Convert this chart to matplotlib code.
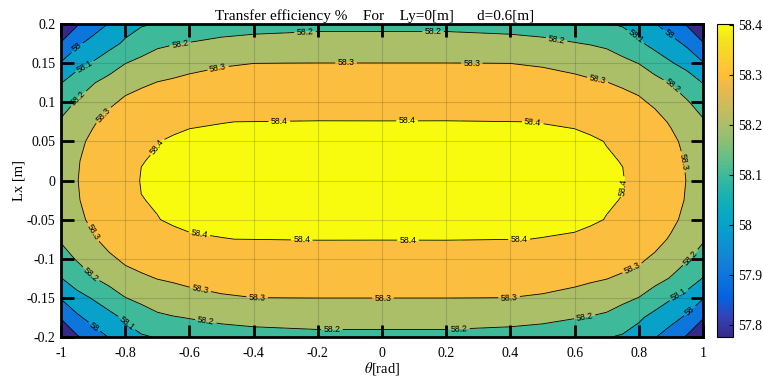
import numpy as np
import matplotlib
matplotlib.use("Agg")
import matplotlib.pyplot as plt
from matplotlib.colors import LinearSegmentedColormap, Normalize
from matplotlib.cm import ScalarMappable

plt.rcParams["font.family"] = ["Liberation Serif", "DejaVu Serif"]
plt.rcParams["mathtext.fontset"] = "stix"
plt.rcParams["axes.unicode_minus"] = False

# one quadrant of the efficiency map (theta >= 0, Lx >= 0); the field is
# symmetric in both directions
theta_q = [0.0, 0.2, 0.4, 0.5, 0.6, 0.65, 0.7, 0.75, 0.8, 0.85, 0.9, 0.95, 1.0]
lx_q = [0.0, 0.025, 0.05, 0.075, 0.1, 0.125, 0.15, 0.175, 0.2]
eff_q = [
    [58.402, 58.402, 58.402, 58.402, 58.402, 58.402, 58.402, 58.4011, 58.390, 58.370, 58.340, 58.297, 58.250],
    [58.402, 58.402, 58.402, 58.402, 58.402, 58.402, 58.4014, 58.3995, 58.386, 58.366, 58.336, 58.292, 58.245],
    [58.402, 58.402, 58.402, 58.402, 58.402, 58.402, 58.3995, 58.394, 58.376, 58.355, 58.322, 58.275, 58.230],
    [58.4015, 58.4016, 58.4003, 58.3998, 58.3989, 58.3958, 58.385, 58.372, 58.355, 58.330, 58.290, 58.245, 58.210],
    [58.370, 58.371, 58.370, 58.366, 58.355, 58.350, 58.343, 58.332, 58.315, 58.285, 58.245, 58.208, 58.160],
    [58.335, 58.335, 58.335, 58.330, 58.318, 58.310, 58.302, 58.287, 58.270, 58.230, 58.195, 58.150, 58.097],
    [58.3005, 58.3005, 58.2995, 58.292, 58.278, 58.266, 58.255, 58.222, 58.198, 58.155, 58.107, 58.068, 58.006],
    [58.240, 58.240, 58.232, 58.222, 58.204, 58.195, 58.180, 58.155, 58.115, 58.070, 58.035, 57.983, 57.910],
    [58.175, 58.175, 58.165, 58.155, 58.140, 58.120, 58.105, 58.090, 58.060, 58.005, 57.950, 57.890, 57.776],
]

line_levels = [57.9, 58.0, 58.1, 58.2, 58.3, 58.4]
cbar_ticks = [57.8, 57.9, 58.0, 58.1, 58.2, 58.3, 58.4]
x_ticks = [-1, -0.8, -0.6, -0.4, -0.2, 0, 0.2, 0.4, 0.6, 0.8, 1]
y_ticks = [-0.2, -0.15, -0.1, -0.05, 0, 0.05, 0.1, 0.15, 0.2]

# where the inline level labels sit (theta, Lx)
label_pos = [
    (-0.956, 0.173), (-0.93, 0.148), (-0.94, 0.102), (-0.869, 0.084),
    (-0.629, 0.176), (-0.511, 0.144), (-0.24, 0.19), (0.159, 0.19),
    (-0.112, 0.150), (0.28, 0.150), (-0.32, 0.078), (0.078, 0.076),
    (0.47, 0.075), (0.545, 0.182), (0.673, 0.131), (0.794, 0.186),
    (0.897, 0.189), (0.907, 0.122), (-0.70, 0.043), (0.75, -0.008),
    (0.938, 0.024), (-0.90, -0.066), (-0.57, -0.072), (-0.25, -0.077),
    (0.081, -0.077), (0.427, -0.077), (-0.567, -0.141), (-0.389, -0.149),
    (0.003, -0.149), (0.396, -0.149), (0.779, -0.112), (-0.551, -0.185),
    (-0.156, -0.192), (0.240, -0.192), (0.632, -0.176), (-0.91, -0.121),
    (-0.80, -0.185), (-0.90, -0.189), (0.96, -0.098), (0.93, -0.15),
    (0.966, -0.17),
]

# parula
parula_pts = [
    (0, (0.2081, 0.1663, 0.5292)), (4, (0.1959, 0.2645, 0.7279)),
    (8, (0.0117, 0.3875, 0.8820)), (12, (0.0498, 0.4586, 0.8641)),
    (16, (0.0793, 0.5200, 0.8312)), (20, (0.0343, 0.5966, 0.8199)),
    (24, (0.0228, 0.6535, 0.7768)), (28, (0.0843, 0.6928, 0.7062)),
    (32, (0.2178, 0.7250, 0.6193)), (36, (0.3953, 0.7459, 0.5244)),
    (40, (0.5709, 0.7485, 0.4494)), (44, (0.7184, 0.7411, 0.3905)),
    (48, (0.8507, 0.7299, 0.3360)), (50, (0.9139, 0.7258, 0.3063)),
    (52, (0.9739, 0.7314, 0.2666)), (54, (0.9990, 0.7653, 0.2164)),
    (56, (0.9880, 0.8066, 0.1794)), (58, (0.9697, 0.8481, 0.1475)),
    (60, (0.9589, 0.8949, 0.1132)), (63, (0.9763, 0.9831, 0.0538)),
]
parula = LinearSegmentedColormap.from_list("parula", [(i / 63, c) for i, c in parula_pts])

theta_q = np.array(theta_q)
lx_q = np.array(lx_q)
eff_q = np.array(eff_q)
theta = np.concatenate([-theta_q[:0:-1], theta_q])
lx = np.concatenate([-lx_q[:0:-1], lx_q])
eff_h = np.hstack([eff_q[:, :0:-1], eff_q])
eff = np.vstack([eff_h[:0:-1], eff_h])

zmin, zmax = eff.min(), eff.max()
norm = Normalize(zmin, zmax)
fill_levels = [zmin] + line_levels + [zmax]
fill_colors = [parula(norm(v)) for v in fill_levels[:-1]]

fig = plt.figure(figsize=(7.63, 3.83), dpi=100)
ax = fig.add_axes([61 / 763, 46 / 383, 642 / 763, 313 / 383])

ax.contourf(theta, lx, eff, levels=fill_levels, colors=fill_colors)
cs = ax.contour(theta, lx, eff, levels=line_levels, colors="k", linewidths=0.6)
lbls = ax.clabel(cs, inline=True, fmt="%g", fontsize=6.3, manual=label_pos, inline_spacing=3)
for t in lbls:
    t.set_family("Liberation Sans")

ax.set_xlim(-1, 1)
ax.set_ylim(-0.2, 0.2)
ax.set_xticks(x_ticks)
ax.set_yticks(y_ticks)
ax.set_xticklabels(["%g" % v for v in x_ticks])
ax.set_yticklabels(["%g" % v for v in y_ticks])
ax.tick_params(direction="in", length=9, width=2, top=True, right=True, labelsize=10)
ax.tick_params(axis="x", pad=7)
ax.tick_params(axis="y", pad=4)
for sp in ax.spines.values():
    sp.set_linewidth(2)
ax.grid(True, color="0.15", alpha=0.18, linewidth=0.8)
ax.set_axisbelow(False)

ax.set_title("Transfer efficiency %    For    Ly=0[m]      d=0.6[m]",
             fontsize=11, pad=3, x=0.489)
ax.set_xlabel(r"$\theta$[rad]", fontsize=10.5, labelpad=0)
ax.set_ylabel("Lx [m]", fontsize=10.5, labelpad=1)

cax = fig.add_axes([717 / 763, 46 / 383, 16 / 763, 313 / 383])
cb = fig.colorbar(ScalarMappable(norm=norm, cmap=parula), cax=cax, ticks=cbar_ticks)
cb.ax.set_yticklabels(["%g" % v for v in cbar_ticks])
cb.ax.tick_params(direction="in", length=3, width=0.8, labelsize=10)
cb.outline.set_linewidth(0.8)

fig.savefig("out.png", dpi=100)
